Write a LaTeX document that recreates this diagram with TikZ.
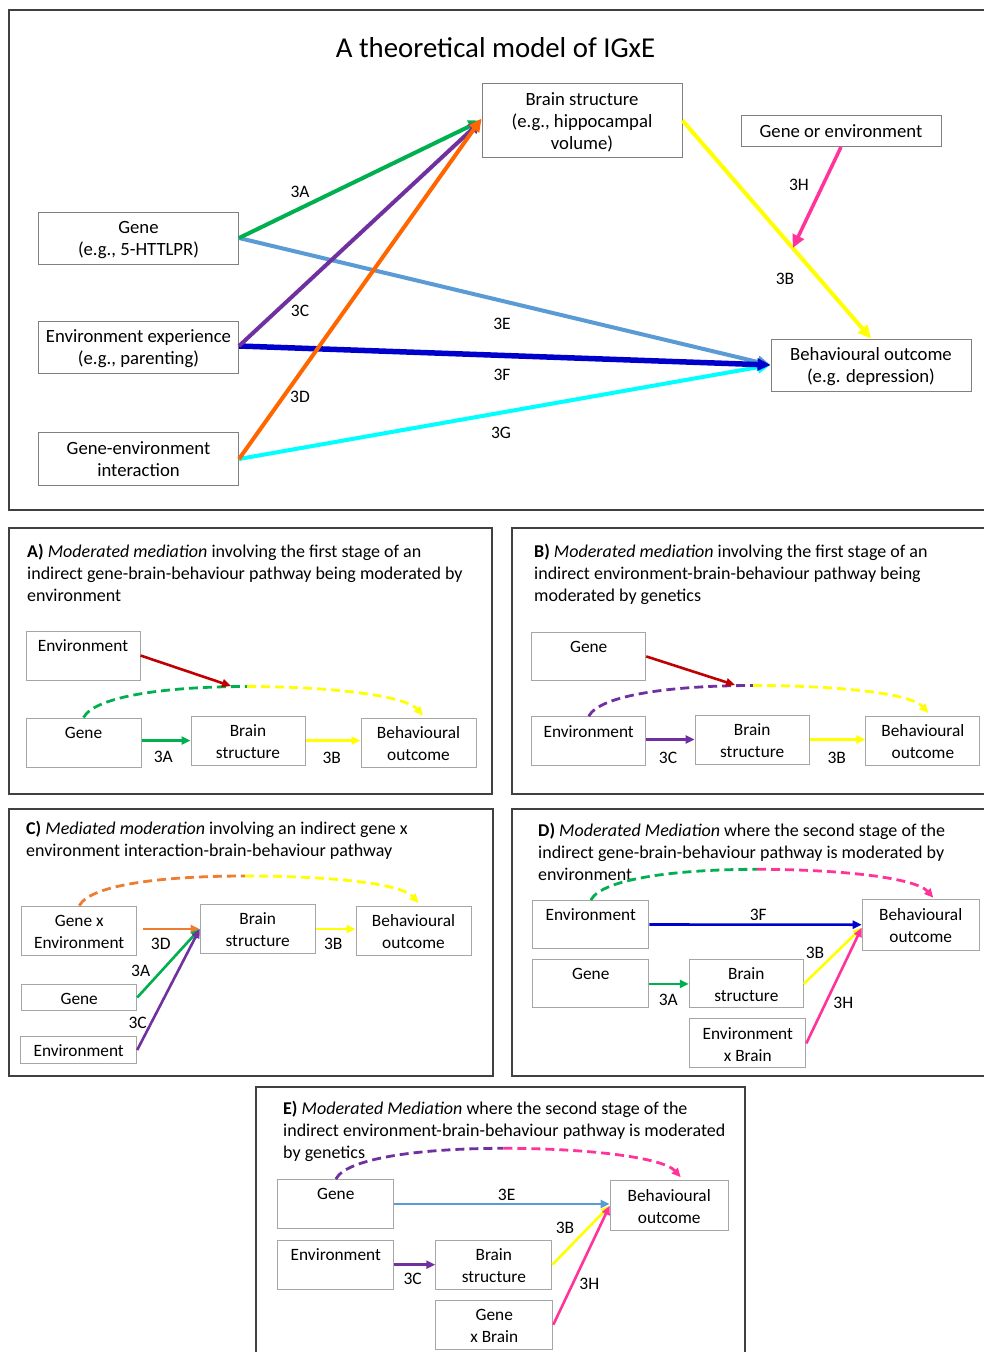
\documentclass[tikz,border=0pt]{standalone}
\usepackage{fontspec}
\setmainfont{Carlito}
\usetikzlibrary{arrows.meta,calc}

\definecolor{framegray}{HTML}{404040}
\definecolor{pboxgray}{HTML}{A6A6A6}
\definecolor{mboxgray}{HTML}{808080}
\definecolor{cgreen}{HTML}{00B050}
\definecolor{cyel}{HTML}{FFFF00}
\definecolor{cpurp}{HTML}{7030A0}
\definecolor{corgm}{HTML}{FF6600}
\definecolor{corgp}{HTML}{ED7D31}
\definecolor{clblue}{HTML}{5B9BD5}
\definecolor{cdblue}{HTML}{0000CC}
\definecolor{ccyan}{HTML}{00FFFF}
\definecolor{cpink}{HTML}{FF3399}
\definecolor{cred}{HTML}{C00000}

\newcommand\panelfnt{\fontsize{17.3}{22}\selectfont}
\newcommand\captfnt{\fontsize{18}{22}\selectfont}
\newcommand\mainfnt{\fontsize{18.7}{22}\selectfont}
\newcommand\lblfnt{\fontsize{17.5}{21}\selectfont}
\newcommand\titlefnt{\fontsize{28.8}{34}\selectfont}
% box texts, lowered a little inside their boxes
\newcommand\lowr[1]{\raisebox{-2.5pt}[\height][\depth]{#1}}
\newcommand\onel[1]{\lowr{\begin{tabular}{@{}c@{}}#1\end{tabular}}}
\newcommand\twol[2]{\lowr{\begin{tabular}{@{}c@{}}#1\\\strut#2\end{tabular}}}
\newcommand\thrl[3]{\lowr{\begin{tabular}{@{}c@{}}#1\\#2\\#3\end{tabular}}}

\tikzset{
  pbox/.style 2 args={draw=pboxgray, line width=1pt, inner sep=0pt,
    minimum width=#1, minimum height=#2, font=\panelfnt},
  mbox/.style 2 args={draw=mboxgray, line width=1pt, inner sep=0pt,
    minimum width=#1, minimum height=#2, font=\mainfnt},
  marr/.style={line width=4pt, -{Triangle[length=13pt,width=12pt]}},
  parr/.style={line width=2.6pt, -{Triangle[length=9pt,width=8pt]}},
  dsh/.style={line width=2.8pt, dash pattern=on 9pt off 5pt},
  dsharr/.style={dsh, -{Triangle[length=9pt,width=8pt]}},
  lbl/.style={font=\lblfnt, inner sep=0pt},
  ptxt/.style={font=\captfnt, align=left, inner sep=0pt, anchor=north west},
  pframe/.style={draw=framegray, line width=1.8pt},
}

\begin{document}
\begin{tikzpicture}[x=1pt, y=-1pt]
\useasboundingbox (0,0) rectangle (984,1352);
\fill[white] (0,0) rectangle (984,1352);

% ---------------- theoretical model ----------------
\draw[pframe] (9,10) rectangle (995,510);
\node[font=\titlefnt, inner sep=0pt] (title) at (495.5,47.5) {A theoretical model of IGxE};

\node[mbox={200}{74}] (brain) at (582,120.5) {\thrl{Brain structure}{(e.g., hippocampal}{volume)}};
\node[mbox={200}{31}] (goe) at (841,131) {\onel{Gene or environment}};
\node[mbox={200}{52}] (gene) at (138.5,238) {\twol{Gene}{(e.g., 5-HTTLPR)}};
\node[mbox={200}{52}] (envx) at (138.5,347) {\twol{Environment experience}{(e.g., parenting)}};
\node[mbox={200}{53}] (gxe) at (138.5,459) {\twol{Gene-environment}{interaction}};
\node[mbox={200}{52}] (beh) at (871,365) {\twol{Behavioural outcome}{(e.g. depression)}};

\draw[marr, clblue] (gene.east) -- (beh.west);
\draw[marr, ccyan] (gxe.east) -- (beh.west);
\draw[marr, cdblue, line width=5.5pt] ([yshift=1pt]envx.east) -- (beh.west);
\draw[marr, cgreen] (gene.east) -- (brain.west);
\draw[marr, cpurp] ([yshift=1pt]envx.east) -- (brain.west);
\draw[marr, corgm] (gxe.east) -- ([yshift=2pt]brain.west);
\draw[marr, cyel] (brain.east) -- (beh.north);
\coordinate (mod3h) at ($(brain.east)!0.585!(beh.north)$);
\draw[marr, cpink, line width=3.5pt] (goe.south) -- (mod3h);

\node[lbl] (m3a) at (300,192) {3A};
\node[lbl] (m3c) at (300,311) {3C};
\node[lbl] (m3d) at (300,397) {3D};
\node[lbl] (m3e) at (502,324) {3E};
\node[lbl] (m3f) at (502,375) {3F};
\node[lbl] (m3g) at (501,433) {3G};
\node[lbl] (m3h) at (799,185) {3H};
\node[lbl] (m3b) at (785,279) {3B};

% ---------------- panel A ----------------
\draw[pframe] (9,528) rectangle (492,794);
\node[ptxt] (atxt) at (27,541.6) {\strut\textbf{A)} \textit{Moderated mediation} involving the first stage of an\\
  indirect gene-brain-behaviour pathway being moderated by\\ environment};
\node[pbox={114}{49}] (aenv) at (83,655.5) {\twol{Environment}{}};
\node[pbox={115}{49}] (agene) at (83.5,742.5) {\twol{Gene}{}};
\node[pbox={114}{49}] (abrain) at (248,740.5) {\twol{Brain}{structure}};
\node[pbox={115}{49}] (abeh) at (418.5,742.5) {\twol{Behavioural}{outcome}};
\coordinate (apk) at (247,686.5);
\coordinate (amod) at (231,686);
\draw[dsh, cgreen] (agene.north) .. controls +(12,-22) and +(-77,0) .. (apk);
\draw[dsharr, cyel] (apk) .. controls +(83,0) and +(-18,-20) .. ([xshift=4.5pt,yshift=2pt]abeh.north);
\draw[parr, cred] (aenv.east) -- (amod);
\draw[parr, cgreen] (agene.east |- abrain.west) -- (abrain.west);
\draw[parr, cyel] (abrain.east) -- (abeh.west |- abrain.east);
\node[lbl] (a3a) at (163.3,756.7) {3A};
\node[lbl] (a3b) at (331.7,758.3) {3B};

% ---------------- panel B ----------------
\draw[pframe] (512,528) rectangle (995,794);
\node[ptxt] (btxt) at (534,541.6) {\strut\textbf{B)} \textit{Moderated mediation} involving the first stage of an\\
  indirect environment-brain-behaviour pathway being\\ moderated by genetics};
\node[pbox={114}{48}] (bgene) at (588.7,656.4) {\twol{Gene}{}};
\node[pbox={114}{49}] (benv) at (588.7,741.2) {\twol{Environment}{}};
\node[pbox={114}{49}] (bbrain) at (752.2,739.5) {\twol{Brain}{structure}};
\node[pbox={114}{49}] (bbeh) at (922.9,740.7) {\twol{Behavioural}{outcome}};
\coordinate (bpk) at (753,685.5);
\coordinate (bmod) at (735,685);
\draw[dsh, cpurp] (benv.north) .. controls +(12,-22) and +(-77,0) .. (bpk);
\draw[dsharr, cyel] (bpk) .. controls +(83,0) and +(-18,-20) .. ([xshift=5.4pt,yshift=2.7pt]bbeh.north);
\draw[parr, cred] (bgene.east) -- (bmod);
\draw[parr, cpurp] (benv.east |- bbrain.west) -- (bbrain.west);
\draw[parr, cyel] (bbrain.east) -- (bbeh.west |- bbrain.east);
\node[lbl] (b3c) at (668,757.7) {3C};
\node[lbl] (b3b) at (836.7,758.3) {3B};

% ---------------- panel C ----------------
\draw[pframe] (9,809) rectangle (492.7,1076);
\node[ptxt] (ctxt) at (26,819) {\strut\textbf{C)} \textit{Mediated moderation} involving an indirect gene x\\
  environment interaction-brain-behaviour pathway};
\node[pbox={115}{49}] (cgxe) at (79.2,930.7) {\twol{Gene x}{Environment}};
\node[pbox={115}{49}] (cbrain) at (257.7,929) {\twol{Brain}{structure}};
\node[pbox={115}{49}] (cbeh) at (413.5,930.7) {\twol{Behavioural}{outcome}};
\node[pbox={115}{26}] (cgene) at (79.2,997.5) {\onel{Gene}};
\node[pbox={116}{27}] (cenv) at (78.7,1050) {\onel{Environment}};
\coordinate (cpk) at (245,876);
\draw[dsh, corgp] (cgxe.north) .. controls +(12,-22) and +(-77,0) .. (cpk);
\draw[dsharr, cyel] (cpk) .. controls +(83,0) and +(-18,-20) .. ([xshift=5pt,yshift=2.7pt]cbeh.north);
\draw[parr, corgp] ([xshift=6pt]cgxe.east |- cbrain.west) -- (cbrain.west);
\draw[parr, cgreen] (cgene.east) -- (cbrain.west);
\draw[parr, cpurp] (cenv.east) -- (cbrain.west);
\draw[parr, cyel] (cbrain.east) -- (cbeh.west |- cbrain.east);
\node[lbl] (c3d) at (160.7,944) {3D};
\node[lbl] (c3a) at (140.7,970.7) {3A};
\node[lbl] (c3c) at (137.7,1022.7) {3C};
\node[lbl] (c3b) at (333.3,944) {3B};

% ---------------- panel D ----------------
\draw[pframe] (511.7,809) rectangle (995,1076);
\node[ptxt] (dtxt) at (538,820.6) {\strut\textbf{D)} \textit{Moderated Mediation} where the second stage of the\\
  indirect gene-brain-behaviour pathway is moderated by\\ environment};
\node[pbox={116}{48}] (denv) at (590.8,924.5) {\twol{Environment}{}};
\node[pbox={117}{51}] (dbeh) at (920.7,924.7) {\twol{Behavioural}{outcome}};
\node[pbox={116}{48}] (dgene) at (590.8,983.9) {\twol{Gene}{}};
\node[pbox={114}{48}] (dbrain) at (746.3,983.9) {\twol{Brain}{structure}};
\node[pbox={116}{49}] (dexb) at (747.8,1043.4) {\twol{Environment}{x Brain}};
\coordinate (dpk) at (757,869.3);
\draw[dsh, cgreen] (denv.north) .. controls +(12,-22) and +(-77,0) .. (dpk);
\draw[dsharr, cpink] (dpk) .. controls +(83,0) and +(-18,-20) .. ([xshift=12.6pt,yshift=1pt]dbeh.north);
\draw[parr, cdblue] (denv.east) -- (dbeh.west);
\draw[parr, cgreen] (dgene.east) -- (dbrain.west);
\draw[parr, cyel] (dbrain.east) -- ([yshift=-3pt]dbeh.west);
\draw[parr, cpink] (dexb.east) -- ([yshift=-3pt]dbeh.west);
\node[lbl] (d3f) at (758.3,915) {3F};
\node[lbl] (d3a) at (668.3,1000) {3A};
\node[lbl] (d3b) at (815,952.7) {3B};
\node[lbl] (d3h) at (843.3,1003.3) {3H};

% ---------------- panel E ----------------
\draw[pframe] (256,1087.3) rectangle (745,1365);
\node[ptxt] (etxt) at (283,1099) {\strut\textbf{E)} \textit{Moderated Mediation} where the second stage of the\\
  indirect environment-brain-behaviour pathway is moderated\\ by genetics};
\node[pbox={116}{49}] (egene) at (335.8,1204) {\twol{Gene}{}};
\node[pbox={118}{50}] (ebeh) at (669.2,1205.7) {\twol{Behavioural}{outcome}};
\node[pbox={116}{49}] (eenv) at (335.8,1264.7) {\twol{Environment}{}};
\node[pbox={116}{49}] (ebrain) at (493.8,1264.7) {\twol{Brain}{structure}};
\node[pbox={117}{49}] (egxb) at (494.3,1324.7) {\twol{Gene}{x Brain}};
\coordinate (epk) at (503.3,1148.3);
\draw[dsh, cpurp] (egene.north) .. controls +(12,-22) and +(-77,0) .. (epk);
\draw[dsharr, cpink] (epk) .. controls +(83,0) and +(-18,-20) .. ([xshift=11.5pt,yshift=3pt]ebeh.north);
\draw[parr, clblue] (egene.east) -- (ebeh.west |- egene.east);
\draw[parr, cpurp] (eenv.east) -- (ebrain.west);
\draw[parr, cyel] (ebrain.east) -- (ebeh.west);
\draw[parr, cpink] (egxb.east) -- (ebeh.west);
\node[lbl] (e3e) at (506.7,1195) {3E};
\node[lbl] (e3c) at (412.7,1279.3) {3C};
\node[lbl] (e3b) at (565,1228.3) {3B};
\node[lbl] (e3h) at (589.3,1284) {3H};
\end{tikzpicture}
\end{document}
